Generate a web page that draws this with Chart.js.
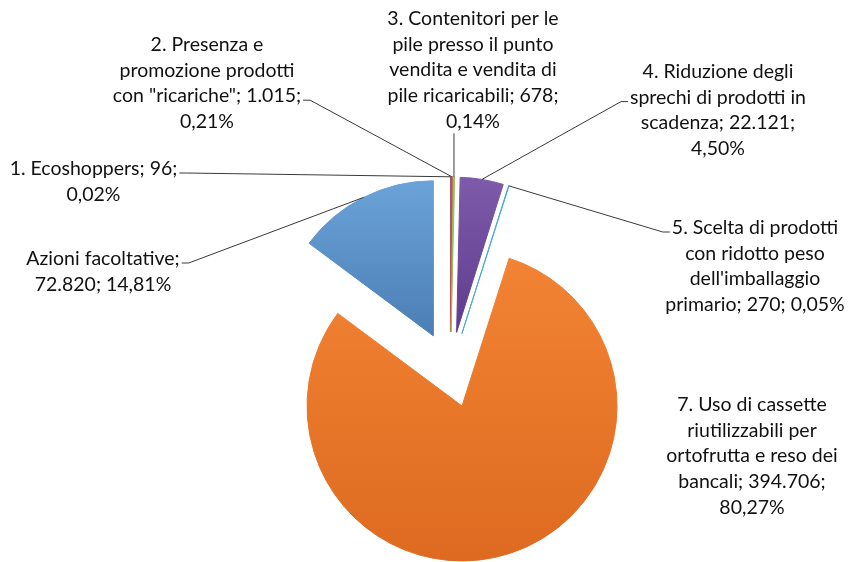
<!DOCTYPE html>
<html>
<head>
<meta charset="utf-8">
<script src="https://cdn.jsdelivr.net/npm/chart.js@4.4.1/dist/chart.umd.min.js"></script>
<style>
  html, body { margin: 0; padding: 0; background: #ffffff; }
  canvas { display: block; }
</style>
</head>
<body>
<canvas id="chart" width="851" height="562"></canvas>
<script>
// ---------- DATA ----------
const categories = [
  '1. Ecoshoppers',
  '2. Presenza e promozione prodotti con "ricariche"',
  '3. Contenitori per le pile presso il punto vendita e vendita di pile ricaricabili',
  '4. Riduzione degli sprechi di prodotti in scadenza',
  "5. Scelta di prodotti con ridotto peso dell'imballaggio primario",
  '7. Uso di cassette riutilizzabili per ortofrutta e reso dei bancali',
  'Azioni facoltative'
];
const values = [96, 1015, 678, 22121, 270, 394706, 72820];

// ---------- STYLE ----------
// [colour at top of pie area, colour at bottom of pie area]
const sliceColors = [
  ['#4F81BD', '#4F81BD'],
  ['#C0504D', '#C0504D'],
  ['#9BBB59', '#9BBB59'],
  ['#7D5AAA', '#32105F'],
  ['#4BACC6', '#4BACC6'],
  ['#F98A39', '#DD6A20'],
  ['#6BA4DA', '#1E477D']
];
const PIE = { W: 851, H: 562, cx: 450.4, cy: 369.8, radius: 155, explode: 38 };
const FONT = '19.5px Lato';
const TEXT_COLOR = '#111111';
const LINE_H = 25.6;
// label placement: centre x, centre y of first line, words per line, leader attachment
const labelLayout = [
  { cx: 93.5, y: 169, words: [3, 1],          leader: { line: 0, side: 'right' } },
  { cx: 207,  y: 45,  words: [3, 2, 3, 1],    leader: { line: 2, side: 'right' } },
  { cx: 473,  y: 19,  words: [4, 4, 4, 3, 1], leader: { side: 'bottom' } },
  { cx: 718,  y: 72,  words: [3, 4, 2, 1],    leader: { line: 1, side: 'left' } },
  { cx: 755,  y: 228, words: [4, 3, 1, 3],    leader: { line: 0, side: 'left' } },
  { cx: 752,  y: 405, words: [4, 2, 4, 2, 1], leader: null },
  { cx: 103,  y: 259, words: [2, 2],          leader: { line: 0, side: 'right' } }
];

// ---------- HELPERS ----------
const total = values.reduce((a, b) => a + b, 0);
const fmtNum = v => String(v).replace(/\B(?=(\d{3})+(?!\d))/g, '.');
const fmtPct = v => (v / total * 100).toFixed(2).replace('.', ',') + '%';
function labelLines(i) {
  const words = (categories[i] + '; ' + fmtNum(values[i]) + '; ' + fmtPct(values[i])).split(' ');
  const out = [];
  let k = 0;
  labelLayout[i].words.forEach(n => { out.push(words.slice(k, k + n).join(' ')); k += n; });
  return out;
}

const gTop = PIE.cy - PIE.radius - PIE.explode;
const gBot = PIE.cy + PIE.radius + PIE.explode;
function sliceFill(ctx) {
  const c = sliceColors[ctx.dataIndex];
  if (c[0] === c[1]) return c[0];
  const g = ctx.chart.ctx.createLinearGradient(0, gTop, 0, gBot);
  g.addColorStop(0, c[0]);
  g.addColorStop(1, c[1]);
  return g;
}

const padX = 2 * PIE.cx - PIE.W, padY = 2 * PIE.cy - PIE.H;

const explodePlugin = {
  id: 'explode',
  afterDatasetsUpdate(chart) {
    chart.getDatasetMeta(0).data.forEach(el => {
      const mid = (el.startAngle + el.endAngle) / 2;
      el.x += Math.cos(mid) * PIE.explode;
      el.y += Math.sin(mid) * PIE.explode;
    });
  }
};

const labelPlugin = {
  id: 'pieLabels',
  afterDraw(chart) {
    const ctx = chart.ctx;
    const arcs = chart.getDatasetMeta(0).data;
    ctx.save();
    ctx.font = FONT;
    ctx.textAlign = 'center';
    ctx.textBaseline = 'middle';
    labelLayout.forEach((L, i) => {
      const lines = labelLines(i);
      ctx.fillStyle = TEXT_COLOR;
      lines.forEach((t, j) => ctx.fillText(t, L.cx, L.y + j * LINE_H));
      if (!L.leader) return;
      const el = arcs[i];
      const mid = (el.startAngle + el.endAngle) / 2;
      const px = el.x + Math.cos(mid) * el.outerRadius;
      const py = el.y + Math.sin(mid) * el.outerRadius;
      ctx.strokeStyle = '#3a3a3a';
      ctx.lineWidth = 1;
      ctx.beginPath();
      if (L.leader.side === 'bottom') {
        ctx.moveTo(px, L.y + (lines.length - 1) * LINE_H + 12);
        ctx.lineTo(px, py);
      } else {
        const j = L.leader.line;
        const w = ctx.measureText(lines[j]).width;
        const ly = L.y + j * LINE_H + 4;
        const dir = L.leader.side === 'right' ? 1 : -1;
        const sx = L.cx + dir * (w / 2 + 2);
        ctx.moveTo(sx, ly);
        ctx.lineTo(sx + dir * 7, ly);
        ctx.lineTo(px, py);
      }
      ctx.stroke();
    });
    ctx.restore();
  }
};

new Chart(document.getElementById('chart'), {
  type: 'pie',
  data: {
    labels: categories,
    datasets: [{
      data: values,
      backgroundColor: sliceFill,
      borderColor: sliceFill,
      borderWidth: 1,
      hoverOffset: 0,
      offset: 0
    }]
  },
  options: {
    responsive: false,
    animation: false,
    events: [],
    radius: PIE.radius,
    layout: {
      padding: {
        left: Math.max(padX, 0), right: Math.max(-padX, 0),
        top: Math.max(padY, 0), bottom: Math.max(-padY, 0)
      }
    },
    plugins: { legend: { display: false }, tooltip: { enabled: false }, title: { display: false } }
  },
  plugins: [explodePlugin, labelPlugin]
});
</script>
</body>
</html>
